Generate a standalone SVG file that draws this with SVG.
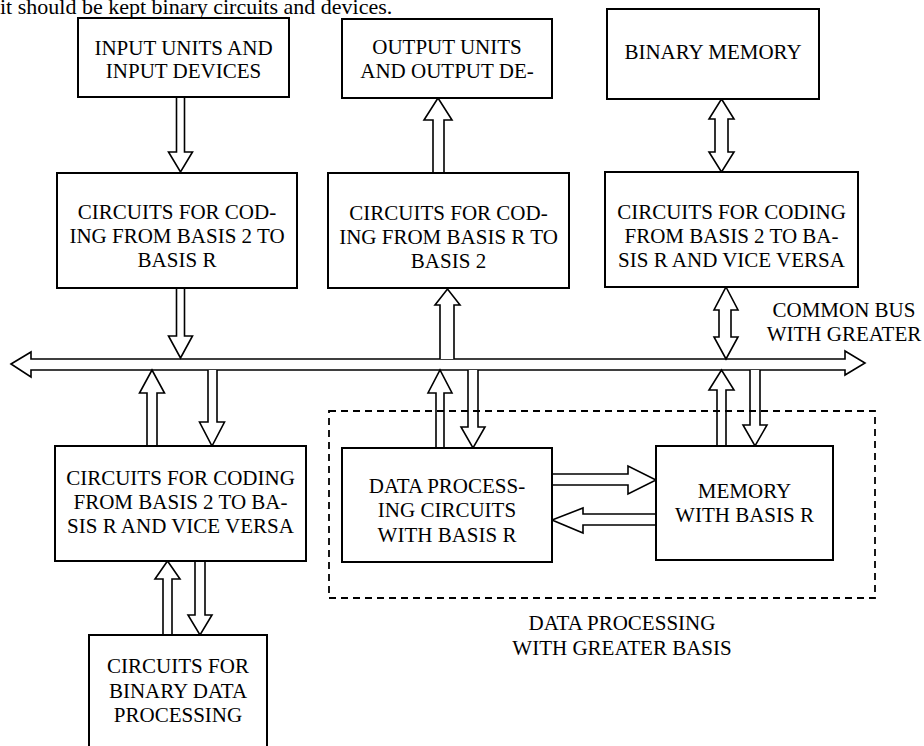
<svg xmlns="http://www.w3.org/2000/svg" width="924" height="746" viewBox="0 0 924 746">
<style>
.box{fill:#fff;stroke:#000;stroke-width:2}
.arr{fill:#fff;stroke:#000;stroke-width:1.6;stroke-linejoin:miter}
.dash{fill:none;stroke:#000;stroke-width:1.8;stroke-dasharray:7 5}
text{font-family:"Liberation Serif","Times New Roman",serif;font-size:21px;fill:#000;text-anchor:middle}
.cap{font-size:22px;text-anchor:start}
</style>
<rect width="924" height="746" fill="#fff"/>
<text class="cap" x="0" y="14">it should be kept binary circuits and devices.</text>

<g id="connectors">
<polygon class="arr" points="11,364 31,352 31,359 845,359 845,351 865,363 845,375 845,370 31,370 31,377"/>
<polyline class="arr" points="176.5,97 176.5,152 168.5,152 180.5,172 192.5,152 184.5,152 184.5,97"/>
<polyline class="arr" points="176.5,288 176.5,336 168.5,336 180.5,358 192.5,336 184.5,336 184.5,288"/>
<polyline class="arr" points="433,172 433,120 424,120 438,98 452,120 444,120 444,172"/>
<polyline class="arr" points="440,359 440,305 435,305 447.5,289 460,305 454,305 454,359"/>
<polygon class="arr" points="721.5,99 734,119 728,119 728,152 734,152 721.5,172 709,152 715,152 715,119 709,119"/>
<polygon class="arr" points="726,287 738,310 731,310 731,337 738,337 726,359 714,337 719,337 719,310 714,310"/>
<polyline class="arr" points="147,446 147,393 139.5,393 152,370 164.5,393 157,393 157,446"/>
<polyline class="arr" points="208,370 208,422 199.5,422 212,446 224.5,422 217,422 217,370"/>
<polyline class="arr" points="163,635 163,579 155,579 167.5,561 180,579 172,579 172,635"/>
<polyline class="arr" points="195,561 195,615 188,615 200,635 212,615 205,615 205,561"/>
<polyline class="arr" points="436,448 436,393 428,393 440,370 452,393 444,393 444,448"/>
<polyline class="arr" points="468,370 468,427 461,427 473,448 485,427 478,427 478,370"/>
<polyline class="arr" points="717,446 717,390 709,390 721.5,370 734,390 726,390 726,446"/>
<polyline class="arr" points="750,370 750,425 743,425 755,446 767,425 760,425 760,370"/>
<polyline class="arr" points="552,474 628,474 628,466 656,480 628,494 628,485 552,485"/>
<polyline class="arr" points="656,514 583,514 583,508 552,520 583,533 583,525 656,525"/>
</g>

<rect class="dash" x="329" y="411" width="546" height="187"/>

<g id="input">
<rect class="box" x="78" y="18" width="211" height="79"/>
<text x="183.5" y="55">INPUT UNITS AND</text>
<text x="183.5" y="78">INPUT DEVICES</text>
</g>
<g id="output">
<rect class="box" x="342" y="19" width="210" height="79"/>
<text x="447" y="54">OUTPUT UNITS</text>
<text x="447" y="78">AND OUTPUT DE-</text>
</g>
<g id="binmem">
<rect class="box" x="607" y="9" width="212" height="90"/>
<text x="713" y="59">BINARY MEMORY</text>
</g>
<g id="code2r">
<rect class="box" x="57" y="173" width="240" height="115"/>
<text x="177" y="219">CIRCUITS FOR COD-</text>
<text x="177" y="243">ING FROM BASIS 2 TO</text>
<text x="177" y="267">BASIS R</text>
</g>
<g id="coder2">
<rect class="box" x="328" y="173" width="241" height="115"/>
<text x="448.5" y="220">CIRCUITS FOR COD-</text>
<text x="448.5" y="244">ING FROM BASIS R TO</text>
<text x="448.5" y="268">BASIS 2</text>
</g>
<g id="codeboth1">
<rect class="box" x="605" y="172" width="253" height="115"/>
<text x="731.5" y="219">CIRCUITS FOR CODING</text>
<text x="731.5" y="243">FROM BASIS 2 TO BA-</text>
<text x="731.5" y="267">SIS R AND VICE VERSA</text>
</g>
<g id="buslabel">
<text x="844" y="317">COMMON BUS</text>
<text x="844" y="341">WITH GREATER</text>
</g>
<g id="codeboth2">
<rect class="box" x="55" y="446" width="251" height="115"/>
<text x="180.5" y="485">CIRCUITS FOR CODING</text>
<text x="180.5" y="509">FROM BASIS 2 TO BA-</text>
<text x="180.5" y="533">SIS R AND VICE VERSA</text>
</g>
<g id="dataproc">
<rect class="box" x="342" y="448" width="210" height="114"/>
<text x="447" y="493">DATA PROCESS-</text>
<text x="447" y="517">ING CIRCUITS</text>
<text x="447" y="542">WITH BASIS R</text>
</g>
<g id="memory">
<rect class="box" x="656" y="446" width="177" height="114"/>
<text x="744.5" y="498">MEMORY</text>
<text x="744.5" y="522">WITH BASIS R</text>
</g>
<g id="dplabel">
<text x="622" y="630">DATA PROCESSING</text>
<text x="622" y="655">WITH GREATER BASIS</text>
</g>
<g id="binproc">
<rect class="box" x="89" y="635" width="178" height="130"/>
<text x="178" y="673">CIRCUITS FOR</text>
<text x="178" y="698">BINARY DATA</text>
<text x="178" y="722">PROCESSING</text>
</g>
</svg>
